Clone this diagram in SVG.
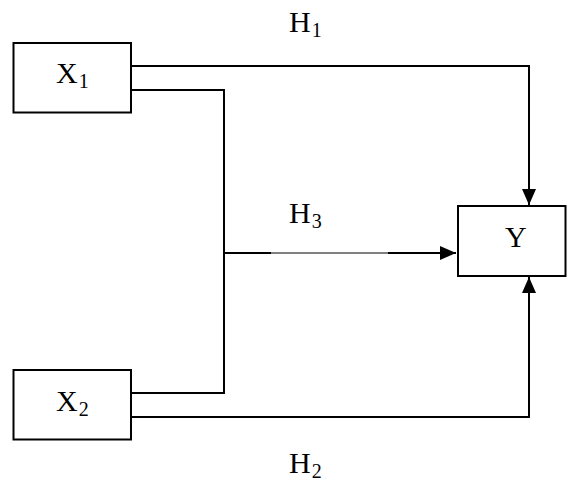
<svg xmlns="http://www.w3.org/2000/svg" width="567" height="483" viewBox="0 0 567 483">
<style>
.box{fill:#fff;stroke:#000;stroke-width:2}
.ln{fill:none;stroke:#000;stroke-width:2}
.thin{fill:none;stroke:#000;stroke-width:1}
.t{font-family:"Liberation Serif","Times New Roman",serif;font-size:30px;fill:#000}
.s{font-size:20px}
</style>
<defs>
<marker id="arr" markerUnits="userSpaceOnUse" markerWidth="17" markerHeight="15" refX="16" refY="7" orient="auto">
<path d="M0,0 L16,7 L0,14 z" fill="#000"/>
</marker>
</defs>
<rect width="567" height="483" fill="#fff"/>
<g id="connectors">
<polyline class="ln" points="131,66 529,66 529,205" marker-end="url(#arr)"/>
<polyline class="ln" points="131,417 529,417 529,277" marker-end="url(#arr)"/>
<polyline class="ln" points="131,90 224,90 224,393 131,393"/>
<line class="ln" x1="224" y1="253" x2="271" y2="253"/>
<line class="thin" x1="271" y1="253" x2="388" y2="253"/>
<line class="ln" x1="388" y1="253" x2="456" y2="253" marker-end="url(#arr)"/>
</g>
<g id="X1">
<rect class="box" x="13.5" y="43" width="117.5" height="69.5"/>
<text class="t" x="56" y="83">X<tspan class="s" dx="1" dy="5">1</tspan></text>
</g>
<g id="X2">
<rect class="box" x="13.5" y="370" width="117.5" height="69.5"/>
<text class="t" x="56" y="411">X<tspan class="s" dx="1" dy="5">2</tspan></text>
</g>
<g id="Y">
<rect class="box" x="458" y="206" width="107.5" height="70"/>
<text class="t" x="505" y="247">Y</text>
</g>
<g id="labels">
<text class="t" x="289" y="32">H<tspan class="s" dx="1" dy="5">1</tspan></text>
<text class="t" x="289" y="223">H<tspan class="s" dx="1" dy="5">3</tspan></text>
<text class="t" x="289" y="473">H<tspan class="s" dx="1" dy="5">2</tspan></text>
</g>
</svg>
